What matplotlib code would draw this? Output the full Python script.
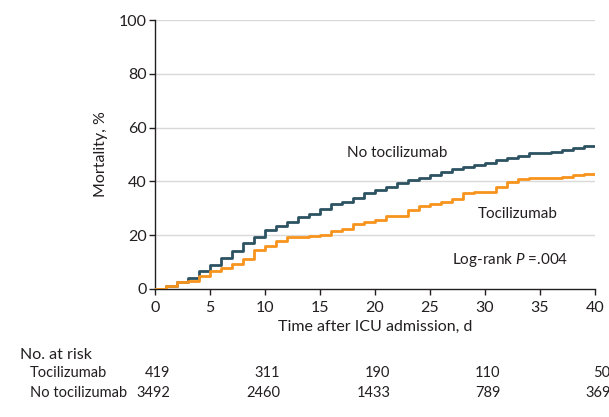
import matplotlib
matplotlib.use("Agg")
import matplotlib.pyplot as plt
import matplotlib.transforms as mtransforms

# daily cumulative mortality, % (value after the step at each day)
days = list(range(0, 41))
toci = [0, 1.0, 2.5, 3.1, 5.0, 6.6, 7.9, 9.2, 11.0, 14.4,
        16.1, 17.7, 19.2, 19.5, 19.8, 20.2, 21.6, 22.4, 24.2, 25.0,
        25.6, 27.1, 27.3, 29.4, 30.9, 31.6, 32.5, 33.6, 35.6, 35.9,
        36.0, 38.1, 39.6, 41.0, 41.1, 41.2, 41.4, 41.7, 42.2, 42.6, 42.6]
no_toci = [0, 1.0, 2.5, 4.1, 6.6, 9.1, 11.5, 14.1, 17.2, 19.4,
           21.9, 23.4, 25.0, 26.6, 28.0, 29.7, 31.5, 32.5, 34.0, 35.6,
           36.7, 38.1, 39.4, 40.4, 41.2, 42.4, 43.5, 44.6, 45.4, 46.2,
           46.9, 47.9, 48.6, 49.6, 50.4, 50.6, 51.1, 51.6, 52.5, 53.2, 53.2]

risk_days = [0, 10, 20, 30, 40]
risk_toci = [419, 311, 190, 110, 50]
risk_no_toci = [3492, 2460, 1433, 789, 369]

plt.rcParams["font.family"] = ["Lato", "DejaVu Sans"]
plt.rcParams["mathtext.fontset"] = "custom"
plt.rcParams["mathtext.it"] = "Lato:italic"

dark = "#2d5362"
orange = "#f7941d"
txt = "#231f20"

W, H = 609, 417
fig = plt.figure(figsize=(W / 100, H / 100), dpi=100)
ax = fig.add_axes([155 / W, 1 - 289 / H, 440 / W, 269 / H])

ax.step(days, no_toci, where="post", color=dark, lw=2, zorder=3)
ax.step(days, toci, where="post", color=orange, lw=2, zorder=4)

ax.set_xlim(0, 40)
ax.set_ylim(0, 100)
ax.set_xticks(range(0, 41, 5))
ax.set_yticks(range(0, 101, 20))
for yv in range(20, 101, 20):
    ax.axhline(yv, color="#d9d9d9", lw=1, zorder=1)
for s in ["top", "right"]:
    ax.spines[s].set_visible(False)
for s in ["left", "bottom"]:
    ax.spines[s].set_color(txt)
    ax.spines[s].set_linewidth(1)
ax.tick_params(colors=txt, labelsize=11.5, length=4, width=1)
ax.tick_params(axis="x", pad=5)
ax.tick_params(axis="y", pad=2)

ax.set_xlabel("Time after ICU admission, d", fontsize=11.5, color=txt, labelpad=3)
ax.set_ylabel("Mortality, %", fontsize=11.5, color=txt, labelpad=8)

ax.text(22, 50.7, "No tocilizumab", fontsize=11, color=txt, ha="center", va="center")
ax.text(33, 28, "Tocilizumab", fontsize=11, color=txt, ha="center", va="center")
ax.text(32.3, 10.8, "Log-rank $\\it{P}$ =.004", fontsize=11, color=txt,
        ha="center", va="center")

# number at risk table
fig.text(20 / W, 1 - 355 / H, "No. at risk", fontsize=11.5, color=txt, va="center")
fig.text(30 / W, 1 - 373 / H, "Tocilizumab", fontsize=10.5, color=txt, va="center")
fig.text(30 / W, 1 - 393 / H, "No tocilizumab", fontsize=10.5, color=txt, va="center")
trans = mtransforms.blended_transform_factory(ax.transData, fig.transFigure)
for d, a, b in zip(risk_days, risk_toci, risk_no_toci):
    ax.text(d + 1.4, 1 - 373 / H, str(a), transform=trans, fontsize=10.5,
            color=txt, ha="right", va="center", clip_on=False)
    ax.text(d + 1.4, 1 - 393 / H, str(b), transform=trans, fontsize=10.5,
            color=txt, ha="right", va="center", clip_on=False)

fig.savefig("out.png", dpi=100)
